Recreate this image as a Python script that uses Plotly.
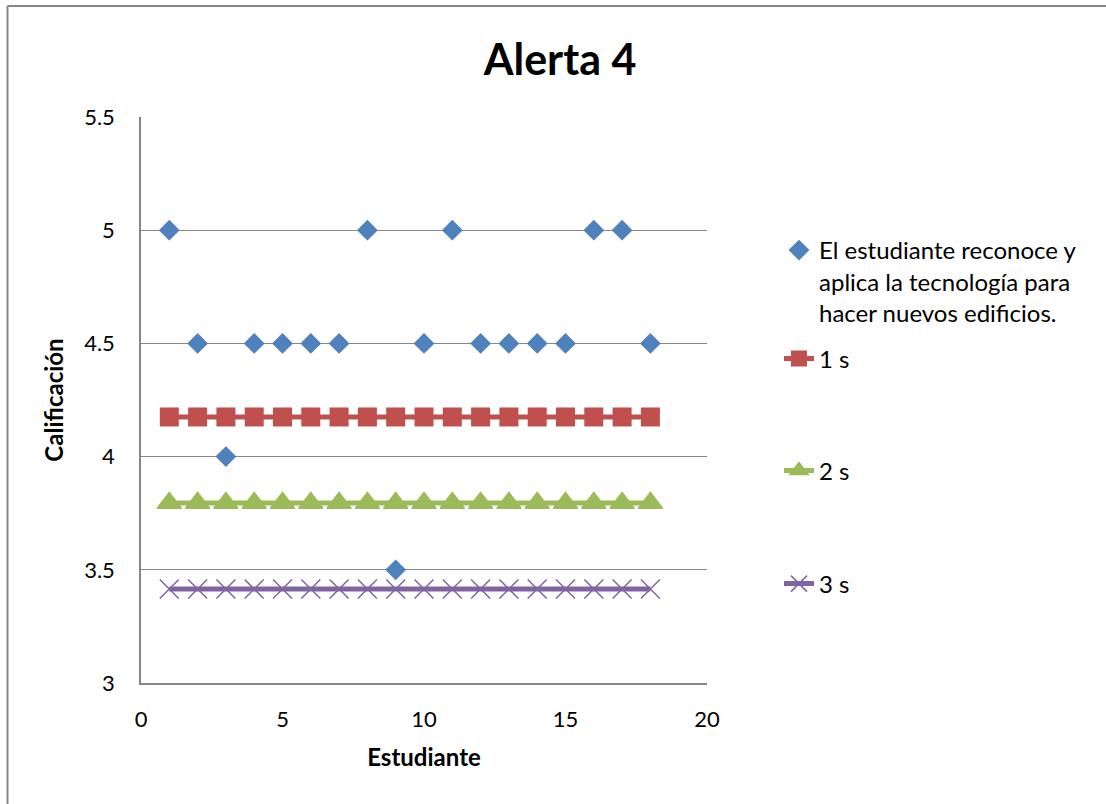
import plotly.graph_objects as go

students = list(range(1, 19))
scores = [5, 4.5, 4, 4.5, 4.5, 4.5, 4.5, 5, 3.5, 4.5, 5, 4.5, 4.5, 4.5, 4.5, 5, 5, 4.5]
s1 = [4.175] * 18
s2 = [3.795] * 18
s3 = [3.415] * 18

series_name = "El estudiante reconoce y<br>aplica la tecnología para<br>hacer nuevos edificios."

FONT = "Lato"
W, H = 1106, 804
L, R, T, B = 141, 707, 117, 683
pw, ph = R - L, B - T

def px(x):
    return (x - L) / pw

def py(y):
    return (B - y) / ph

fig = go.Figure()
fig.add_trace(go.Scatter(x=students, y=s1, mode="lines+markers", name="1 s",
                         line=dict(color="#C0504D", width=5),
                         marker=dict(symbol="square", size=19, color="#C0504D"),
                         legend="legend2"))
fig.add_trace(go.Scatter(x=students, y=s2, mode="lines+markers", name="2 s",
                         line=dict(color="#9BBB59", width=5),
                         marker=dict(symbol="triangle-up", size=21, color="#9BBB59",
                                     line=dict(color="#9BBB59", width=1.5)),
                         legend="legend3"))
fig.add_trace(go.Scatter(x=students, y=s3, mode="lines+markers", name="3 s",
                         line=dict(color="#8064A2", width=5),
                         marker=dict(symbol="x-thin", size=19, color="#8064A2",
                                     line=dict(color="#8064A2", width=1.5)),
                         legend="legend4"))
fig.add_trace(go.Scatter(x=students, y=scores, mode="markers", name=series_name,
                         marker=dict(symbol="diamond", size=16, color="#4F81BD"),
                         legend="legend"))

legfont = dict(family=FONT, size=24, color="#000")
LEGX = 779

def leg(ycenter):
    return dict(x=px(LEGX), xanchor="left", y=py(ycenter), yanchor="middle",
                font=legfont, bgcolor="rgba(0,0,0,0)", borderwidth=0,
                itemwidth=30, valign="top")

fig.update_layout(
    width=W, height=H,
    margin=dict(l=L, r=W - R, t=T, b=H - B),
    paper_bgcolor="white", plot_bgcolor="white",
    title=dict(text="<b>Alerta 4</b>", x=560 / W, xanchor="center",
               y=1 - 60 / H, yanchor="middle",
               font=dict(family=FONT, size=43, color="#000")),
    showlegend=True,
    legend=dict(x=px(LEGX), xanchor="left", y=py(228), yanchor="top",
                font=legfont, bgcolor="rgba(0,0,0,0)", valign="top"),
    legend2=leg(359),
    legend3=leg(471),
    legend4=leg(584),
    xaxis=dict(range=[0, 20], dtick=5, showgrid=False, zeroline=False,
               showline=True, linecolor="#868686", linewidth=1.5,
               ticks="", tickfont=dict(family=FONT, size=22, color="#000"),
               ticklabelstandoff=16,
               title=dict(text="<b>Estudiante</b>", standoff=18,
                          font=dict(family=FONT, size=24, color="#000"))),
    yaxis=dict(range=[3, 5.5], dtick=0.5, showgrid=True, gridcolor="#868686",
               gridwidth=1, zeroline=False, showline=True, linecolor="#868686",
               linewidth=1.5, ticks="", tickformat=".1~f",
               tickfont=dict(family=FONT, size=22, color="#000"),
               ticklabelstandoff=20,
               title=dict(text="<b>Calificación</b>", standoff=14,
                          font=dict(family=FONT, size=24, color="#000"))),
    shapes=[
        dict(type="line", xref="paper", yref="paper", x0=px(7.5), x1=px(7.5),
             y0=py(6), y1=py(810), line=dict(color="#868686", width=2)),
        dict(type="line", xref="paper", yref="paper", x0=px(7.5), x1=px(1110),
             y0=py(6), y1=py(6), line=dict(color="#868686", width=2)),
    ],
)

fig.write_html("out.html")
